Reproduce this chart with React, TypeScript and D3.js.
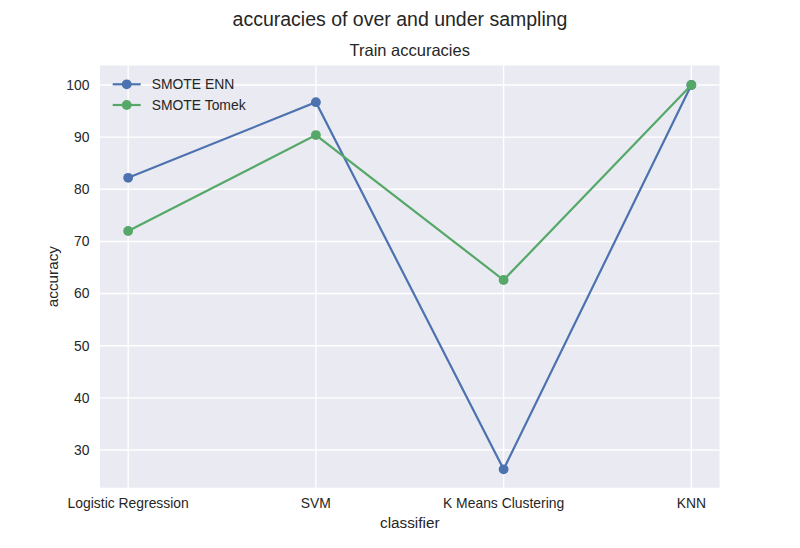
import { useEffect, useRef } from "react";
import * as d3 from "d3";

const classifiers = ["Logistic Regression", "SVM", "K Means Clustering", "KNN"];
const smoteEnn = [82.2, 96.7, 26.3, 100];
const smoteTomek = [72.0, 90.4, 62.6, 100];
const yTicks = [30, 40, 50, 60, 70, 80, 90, 100];

const seriesList = [
  { name: "SMOTE ENN", values: smoteEnn, color: "#4C72B0" },
  { name: "SMOTE Tomek", values: smoteTomek, color: "#55A868" },
];

export default function App() {
  const ref = useRef<SVGSVGElement | null>(null);

  const width = 800;
  const height = 548;
  const margin = { top: 65.5, right: 80.5, bottom: 60.3, left: 100 };
  const innerW = width - margin.left - margin.right;
  const innerH = height - margin.top - margin.bottom;

  useEffect(() => {
    const root = d3.select(ref.current);
    root.selectAll("*").remove();
    const font = "'Liberation Sans', Arial, sans-serif";
    const textColor = "#262626";

    // suptitle + title
    root
      .append("text")
      .attr("x", width / 2)
      .attr("y", 26)
      .attr("text-anchor", "middle")
      .style("font-family", font)
      .style("font-size", "19.5px")
      .style("fill", textColor)
      .text("accuracies of over and under sampling");

    root
      .append("text")
      .attr("x", margin.left + innerW / 2)
      .attr("y", 56)
      .attr("text-anchor", "middle")
      .style("font-family", font)
      .style("font-size", "16.5px")
      .style("fill", textColor)
      .text("Train accuracies");

    const svg = root
      .append("g")
      .attr("transform", `translate(${margin.left},${margin.top})`);

    const x = d3.scaleLinear().domain([-0.15, 3.15]).range([0, innerW]);
    const y = d3.scaleLinear().domain([22.77, 103.74]).range([innerH, 0]);

    svg
      .append("rect")
      .attr("width", innerW)
      .attr("height", innerH)
      .attr("fill", "#EAEAF2");

    // grid
    svg
      .selectAll(".ygrid")
      .data(yTicks)
      .enter()
      .append("line")
      .attr("x1", 0)
      .attr("x2", innerW)
      .attr("y1", (d) => y(d))
      .attr("y2", (d) => y(d))
      .attr("stroke", "white")
      .attr("stroke-width", 1.4);

    svg
      .selectAll(".xgrid")
      .data(classifiers)
      .enter()
      .append("line")
      .attr("x1", (d, i) => x(i))
      .attr("x2", (d, i) => x(i))
      .attr("y1", 0)
      .attr("y2", innerH)
      .attr("stroke", "white")
      .attr("stroke-width", 1.4);

    // tick labels
    svg
      .selectAll(".ylab")
      .data(yTicks)
      .enter()
      .append("text")
      .attr("x", -10.5)
      .attr("y", (d) => y(d))
      .attr("dy", "0.35em")
      .attr("text-anchor", "end")
      .style("font-family", font)
      .style("font-size", "13.9px")
      .style("fill", textColor)
      .text((d) => d);

    svg
      .selectAll(".xlab")
      .data(classifiers)
      .enter()
      .append("text")
      .attr("x", (d, i) => x(i))
      .attr("y", innerH + 20.5)
      .attr("text-anchor", "middle")
      .style("font-family", font)
      .style("font-size", "13.9px")
      .style("fill", textColor)
      .text((d) => d);

    // axis labels
    svg
      .append("text")
      .attr("x", innerW / 2)
      .attr("y", innerH + 40)
      .attr("text-anchor", "middle")
      .style("font-family", font)
      .style("font-size", "15.3px")
      .style("fill", textColor)
      .text("classifier");

    svg
      .append("text")
      .attr("transform", `translate(${-42},${innerH / 2}) rotate(-90)`)
      .attr("text-anchor", "middle")
      .style("font-family", font)
      .style("font-size", "15.3px")
      .style("fill", textColor)
      .text("accuracy");

    // lines
    const line = d3
      .line<number>()
      .x((d, i) => x(i))
      .y((d) => y(d));

    seriesList.forEach((s) => {
      svg
        .append("path")
        .datum(s.values)
        .attr("d", line)
        .attr("fill", "none")
        .attr("stroke", s.color)
        .attr("stroke-width", 2.2);
      svg
        .selectAll(null)
        .data(s.values)
        .enter()
        .append("circle")
        .attr("cx", (d, i) => x(i))
        .attr("cy", (d) => y(d))
        .attr("r", 4.9)
        .attr("fill", s.color);
    });

    // legend
    const legend = svg.append("g").attr("transform", "translate(12.7,18.8)");
    seriesList.forEach((s, i) => {
      const row = legend.append("g").attr("transform", `translate(0,${i * 20.7})`);
      row
        .append("line")
        .attr("x1", 0)
        .attr("x2", 28)
        .attr("stroke", s.color)
        .attr("stroke-width", 2.2);
      row.append("circle").attr("cx", 14).attr("r", 4.9).attr("fill", s.color);
      row
        .append("text")
        .attr("x", 39)
        .attr("dy", "0.35em")
        .style("font-family", font)
        .style("font-size", "13.9px")
        .style("fill", textColor)
        .text(s.name);
    });
  }, []);

  return (
    <svg
      ref={ref}
      width={width}
      height={height}
      style={{ position: "absolute", left: 0, top: 0, background: "white" }}
    />
  );
}
